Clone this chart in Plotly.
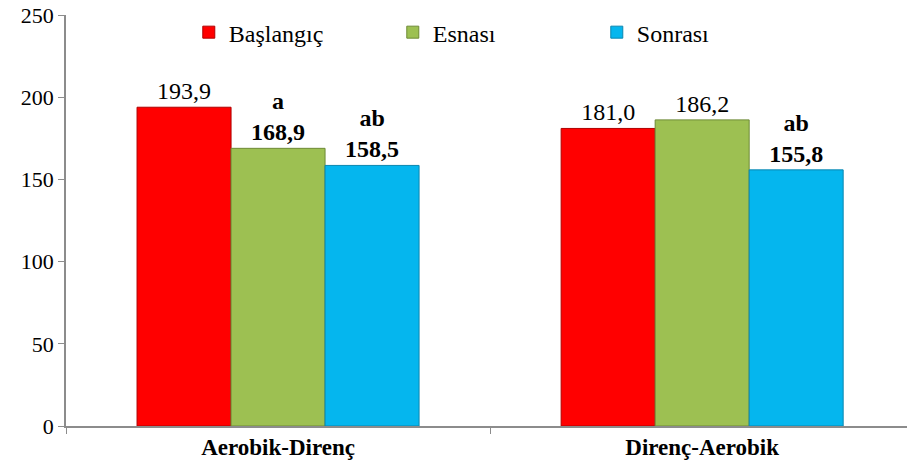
import plotly.graph_objects as go

# Groups and measurement periods
categories = ["Aerobik-Direnç", "Direnç-Aerobik"]
series_names = ["Başlangıç", "Esnası", "Sonrası"]
baslangic = [193.9, 181.0]
esnasi = [168.9, 186.2]
sonrasi = [158.5, 155.8]
# Significance letters shown above the bars ("" = none)
esnasi_sig = ["a", ""]
sonrasi_sig = ["ab", "ab"]
y_ticks = [0, 50, 100, 150, 200, 250]

colors = ["#FF0000", "#9DC052", "#05B6EE"]
edge_colors = ["#B00000", "#6E8A36", "#0A86B0"]
FONT = "Liberation Serif, Times New Roman, serif"


def fmt(v):
    return f"{v:.1f}".replace(".", ",")


def labels(values, sig=None):
    out = []
    for i, v in enumerate(values):
        s = sig[i] if sig else ""
        if s:
            out.append(f"<b>{s}<br>{fmt(v)}</b>")
        else:
            out.append(fmt(v))
    return out


series_values = [baslangic, esnasi, sonrasi]
series_text = [labels(baslangic), labels(esnasi, esnasi_sig), labels(sonrasi, sonrasi_sig)]

fig = go.Figure()
for name, vals, txt, c, ec in zip(series_names, series_values, series_text, colors, edge_colors):
    fig.add_trace(go.Bar(
        x=categories, y=vals, name=name,
        marker=dict(color=c, line=dict(color=ec, width=1)),
        text=txt, textposition="outside", cliponaxis=False,
        textfont=dict(family=FONT, size=24, color="#000000"),
    ))

fig.update_layout(
    width=907, height=471,
    margin=dict(l=66, r=0, t=15, b=45),
    paper_bgcolor="white", plot_bgcolor="white",
    barmode="group", bargap=0.335, bargroupgap=0,
    font=dict(family=FONT, size=22, color="#000000"),
    showlegend=True,
    legend=dict(
        orientation="h", x=0.146, y=1.012, xanchor="left", yanchor="top",
        font=dict(family=FONT, size=24), entrywidth=159,
        itemwidth=30, bgcolor="rgba(0,0,0,0)",
    ),
)
fig.update_xaxes(
    range=[-0.5, 1.483],
    showline=True, linecolor="#8C8C8C", linewidth=1.5,
    ticks="outside", tickson="boundaries", ticklen=6, tickcolor="#8C8C8C",
    tickfont=dict(family=FONT, size=23, color="#000000"),
    tickvals=categories, ticktext=[f"<b>{c}</b>" for c in categories],
    showgrid=False,
)
fig.update_yaxes(
    range=[0, 250], tickvals=y_ticks,
    showline=True, linecolor="#8C8C8C", linewidth=1.5,
    ticks="outside", ticklen=6, tickcolor="#8C8C8C",
    tickfont=dict(family=FONT, size=22, color="#000000"),
    showgrid=False, zeroline=False,
)

fig.write_html("out.html")
